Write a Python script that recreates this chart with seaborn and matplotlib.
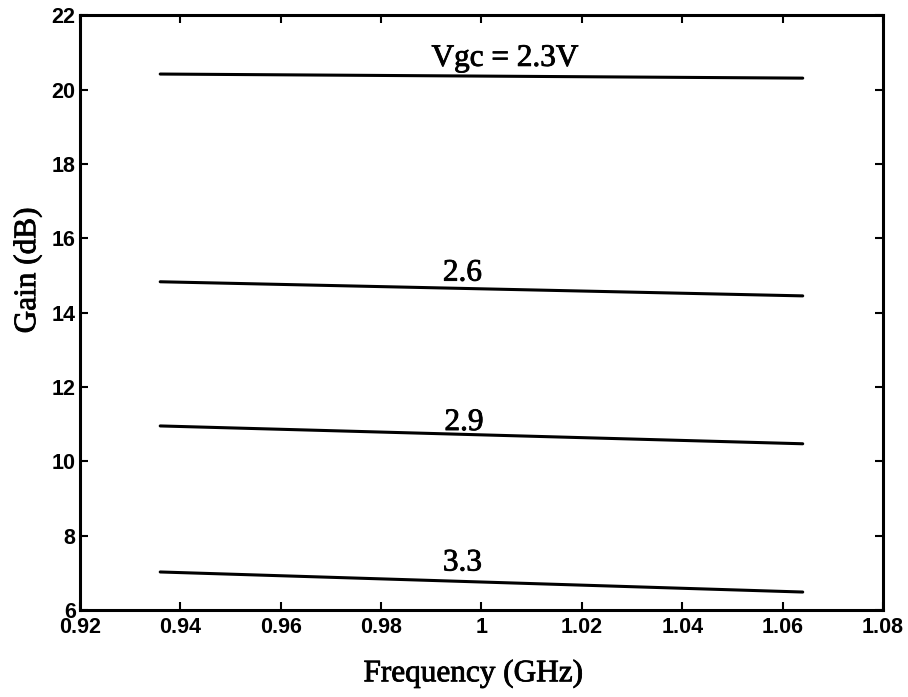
import matplotlib
matplotlib.use("Agg")
import matplotlib.pyplot as plt
import matplotlib.patheffects as pe
import seaborn as sns
import pandas as pd

sns.set_theme(style="ticks")

freq = [0.936, 1.064]
vgc_labels = ["2.3", "2.6", "2.9", "3.3"]
gain_23 = [20.42, 20.31]
gain_26 = [14.83, 14.45]
gain_29 = [10.95, 10.47]
gain_33 = [7.02, 6.48]
annot_text = ["Vgc = 2.3V", "2.6", "2.9", "3.3"]
annot_x = [1.0047, 0.9962, 0.9965, 0.9962]
annot_y = [20.64, 14.86, 10.84, 7.06]
xticks = [0.92, 0.94, 0.96, 0.98, 1.0, 1.02, 1.04, 1.06, 1.08]
xticklabels = ["0.92", "0.94", "0.96", "0.98", "1", "1.02", "1.04", "1.06", "1.08"]
yticks = [6, 8, 10, 12, 14, 16, 18, 20, 22]

rows = []
for lab, g in zip(vgc_labels, [gain_23, gain_26, gain_29, gain_33]):
    for f, v in zip(freq, g):
        rows.append({"Frequency": f, "Gain": v, "Vgc": lab})
df = pd.DataFrame(rows)

fig = plt.figure(figsize=(9.08, 6.97), dpi=100)
ax = fig.add_axes([0.088, 0.125, 0.8845, 0.853])
sns.lineplot(data=df, x="Frequency", y="Gain", hue="Vgc",
             palette=["black"] * 4, linewidth=2.2, legend=False, ax=ax)

ax.set_xlim(0.92, 1.08)
ax.set_ylim(6, 22)
ax.set_xticks(xticks)
ax.set_xticklabels(xticklabels)
ax.set_yticks(yticks)
for lbl in ax.get_xticklabels() + ax.get_yticklabels():
    lbl.set_fontfamily("Liberation Sans")
    lbl.set_fontweight("bold")
    lbl.set_fontsize(15.5)
    lbl.set_color("black")
ax.tick_params(axis="x", pad=5)
ax.tick_params(axis="y", pad=3)
ax.tick_params(direction="in", length=6, width=1.5, top=True, right=True,
               colors="black")
for sp in ax.spines.values():
    sp.set_linewidth(2.2)
    sp.set_color("black")
    sp.set_visible(True)

stroke = [pe.withStroke(linewidth=0.6, foreground="black")]
ax.set_xlabel("Frequency (GHz)", fontfamily="Liberation Serif", fontsize=22.5,
              color="black", path_effects=stroke)
ax.xaxis.set_label_coords(0.49, -0.083)
ax.set_ylabel("Gain (dB)", fontfamily="Liberation Serif", fontsize=22.5,
              color="black", path_effects=stroke)
ax.yaxis.set_label_coords(-0.047, 0.571)

for t, x, y in zip(annot_text, annot_x, annot_y):
    ax.text(x, y, t, ha="center", va="baseline", fontfamily="Liberation Serif",
            fontsize=22.5, color="black", path_effects=stroke)

fig.savefig("out.png", dpi=100)
